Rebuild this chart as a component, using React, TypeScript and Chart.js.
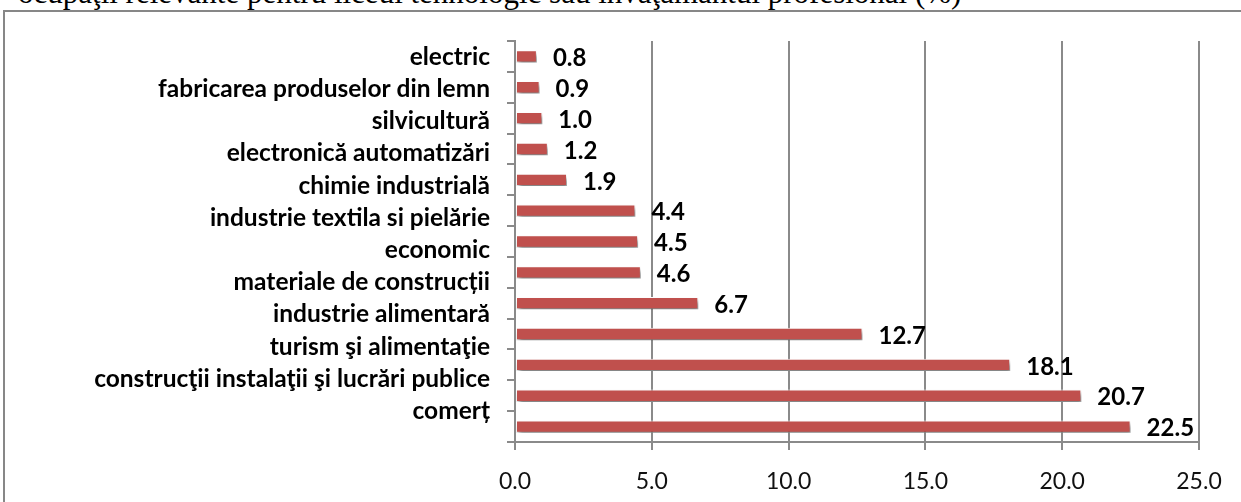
import React, { useEffect, useRef } from 'react';
import { Chart, registerables } from 'chart.js';

Chart.register(...registerables);

const categories = [
  'electric',
  'fabricarea produselor din lemn',
  'silvicultură',
  'electronică automatizări',
  'chimie industrială',
  'industrie textila si pielărie',
  'economic',
  'materiale de construcții',
  'industrie alimentară',
  'turism şi alimentaţie',
  'construcţii instalaţii şi lucrări publice',
  'comerț',
  'mecanică',
];
const values = [0.8, 0.9, 1.0, 1.2, 1.9, 4.4, 4.5, 4.6, 6.7, 12.7, 18.1, 20.7, 22.5];
const xTickValues = [0, 5, 10, 15, 20, 25];
const titleText = 'ocupaţii relevante pentru liceul tehnologic sau învăţământul profesional (%)';

const BAR = '#C0504D';
const GRID = '#8a8a8a';
const FONT = 'Lato, "Open Sans", sans-serif';

const shadowPlugin = {
  id: 'barShadow',
  beforeDatasetDraw(chart: any) {
    const ctx = chart.ctx;
    ctx.save();
    ctx.shadowColor = 'rgba(0,0,0,0.5)';
    ctx.shadowBlur = 4;
    ctx.shadowOffsetX = 2;
    ctx.shadowOffsetY = 4;
  },
  afterDatasetDraw(chart: any) {
    chart.ctx.restore();
  },
};

const valueLabelPlugin = {
  id: 'valueLabels',
  afterDatasetsDraw(chart: any) {
    const ctx = chart.ctx;
    const meta = chart.getDatasetMeta(0);
    ctx.save();
    ctx.font = `bold 24px ${FONT}`;
    ctx.fillStyle = '#000';
    ctx.textAlign = 'left';
    ctx.textBaseline = 'middle';
    meta.data.forEach((bar: any, i: number) => {
      ctx.fillText(values[i].toFixed(1), bar.x + 16, bar.y + 2);
    });
    ctx.restore();
  },
};

export default function App() {
  const ref = useRef<HTMLCanvasElement | null>(null);

  useEffect(() => {
    if (!ref.current) return;
    const padLeft = 10;
    const LMIN = -0.497;
    const LMAX = 11.964;
    const chart = new Chart(ref.current, {
      type: 'bar',
      data: {
        labels: categories,
        datasets: [
          {
            data: values,
            backgroundColor: BAR,
            borderColor: '#ffffff',
            borderWidth: 1,
            borderSkipped: false,
            categoryPercentage: 1,
            barPercentage: 0.4,
          },
        ],
      },
      options: {
        indexAxis: 'y',
        responsive: false,
        animation: false,
        layout: { padding: { top: 41, right: 42, bottom: 0, left: padLeft } },
        plugins: {
          legend: { display: false },
          tooltip: { enabled: false },
        },
        scales: {
          x: {
            type: 'linear',
            position: 'bottom',
            min: 0,
            max: 25,
            afterBuildTicks: (s: any) => {
              s.ticks = xTickValues.map((v) => ({ value: v }));
            },
            afterFit: (s: any) => {
              s.height = 60;
            },
            ticks: {
              callback: (v: any) => Number(v).toFixed(1),
              font: { family: FONT, size: 23 },
              color: '#111',
              padding: 18,
              maxRotation: 0,
            },
            grid: {
              color: GRID,
              lineWidth: 2,
              drawTicks: true,
              tickLength: 8,
            },
            border: { color: GRID, width: 2 },
          },
          y: {
            type: 'category',
            position: 'left',
            weight: 0,
            offset: true,
            afterFit: (s: any) => {
              s.width = 8;
            },
            ticks: { display: false },
            grid: {
              offset: true,
              drawOnChartArea: false,
              drawTicks: true,
              tickLength: 8,
              color: GRID,
              lineWidth: 2,
            },
            border: { color: GRID, width: 2 },
          },
          yl: {
            type: 'linear',
            axis: 'y',
            position: 'left',
            weight: 1,
            reverse: true,
            offset: false,
            bounds: 'data',
            min: LMIN,
            max: LMAX,
            afterBuildTicks: (s: any) => {
              s.min = LMIN;
              s.max = LMAX;
              s.ticks = categories
                .map((_, i) => ({ value: i }))
                .filter((t) => t.value <= LMAX);
            },
            afterFit: (s: any) => {
              s.width = 507 - padLeft;
            },
            ticks: {
              autoSkip: false,
              callback: (v: any) => categories[Number(v)],
              font: { family: FONT, size: 24.5, weight: 'bold' },
              color: '#000',
              padding: 17,
            },
            grid: { display: false, drawTicks: false },
            border: { display: false },
          },
        },
      },
      plugins: [shadowPlugin, valueLabelPlugin],
    } as any);
    return () => chart.destroy();
  }, []);

  return (
    <div
      style={{
        position: 'absolute',
        left: 0,
        top: 0,
        width: 1241,
        height: 502,
        overflow: 'hidden',
        background: '#ffffff',
      }}
    >
      <div
        style={{
          position: 'absolute',
          left: 18,
          top: -23,
          fontFamily: '"Liberation Serif", "Times New Roman", serif',
          fontSize: 31,
          lineHeight: '31px',
          whiteSpace: 'nowrap',
          color: '#000',
        }}
      >
        {titleText}
      </div>
      <div
        style={{
          position: 'absolute',
          left: 3,
          top: 10,
          width: 1260,
          height: 520,
          border: '2px solid #878787',
          boxSizing: 'border-box',
        }}
      />
      <canvas
        ref={ref}
        width={1241}
        height={502}
        style={{ position: 'absolute', left: 0, top: 0 }}
      />
    </div>
  );
}
